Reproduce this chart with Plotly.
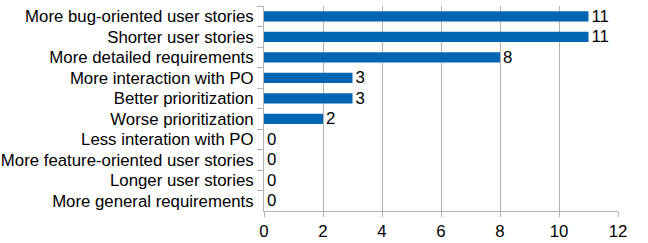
import plotly.graph_objects as go

categories = [
    "More bug-oriented user stories",
    "Shorter user stories",
    "More detailed requirements",
    "More interaction with PO",
    "Better prioritization",
    "Worse prioritization",
    "Less interation with PO",
    "More feature-oriented user stories",
    "Longer user stories",
    "More general requirements",
]
values = [11, 11, 8, 3, 3, 2, 0, 0, 0, 0]
x_ticks = [0, 2, 4, 6, 8, 10, 12]

FONT = "Liberation Sans, Arial, sans-serif"
FS = 16.8

fig = go.Figure(go.Bar(
    y=categories,
    x=values,
    orientation="h",
    marker=dict(color="#0066b3", line=dict(width=0)),
    width=0.5,
    text=[str(v) for v in values],
    textposition="outside",
    constraintext="none",
    textfont=dict(family=FONT, size=FS, color="#000000"),
    cliponaxis=False,
))

fig.update_layout(
    width=648, height=243,
    margin=dict(l=264, r=30, t=6, b=32, autoexpand=False),
    paper_bgcolor="white", plot_bgcolor="white",
    font=dict(family=FONT, size=FS, color="#000000"),
    showlegend=False,
    uniformtext=dict(minsize=FS, mode="show"),
)
fig.update_xaxes(
    range=[0, 12], tickvals=x_ticks, ticktext=[str(t) for t in x_ticks],
    showgrid=True, gridcolor="#b3b3b3", gridwidth=1,
    zeroline=False, showline=True, linecolor="#b3b3b3", linewidth=1,
    ticks="outside", ticklen=5, tickcolor="#b3b3b3",
    tickfont=dict(family=FONT, size=FS, color="#000000"),
    automargin=False,
    fixedrange=True,
)
fig.update_yaxes(
    categoryorder="array", categoryarray=categories, autorange="reversed",
    showgrid=False, showline=True, linecolor="#b3b3b3", linewidth=1,
    ticks="outside", ticklen=6, tickcolor="#b3b3b3", tickson="boundaries",
    tickfont=dict(family=FONT, size=FS, color="#000000"),
    ticklabelstandoff=6,
    automargin=False,
    fixedrange=True,
)

fig.write_html(
    "out.html",
    config={"displayModeBar": False},
    post_script="document.body.style.margin='0';document.body.style.overflow='hidden';",
)
